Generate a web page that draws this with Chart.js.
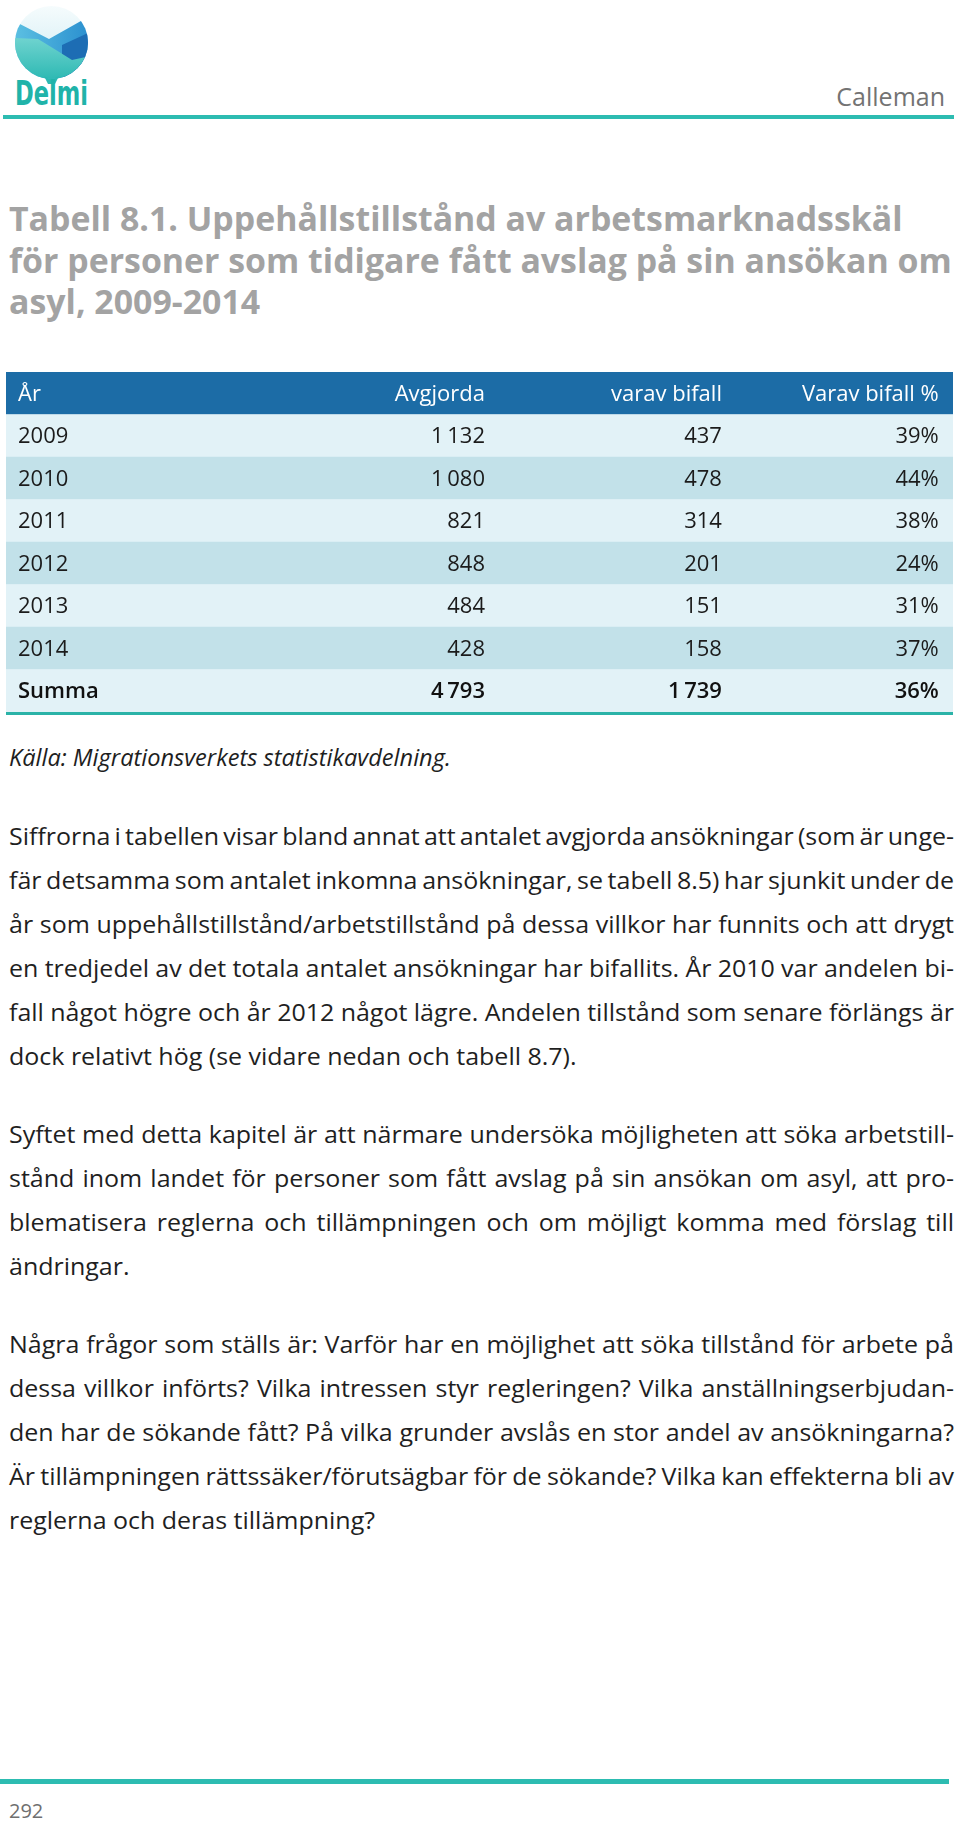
<!DOCTYPE html>
<html><head><meta charset="utf-8">
<script src="https://cdn.jsdelivr.net/npm/chart.js@4"></script>
<style>
html,body{margin:0;padding:0;background:#fff;}
body{width:960px;height:1824px;position:relative;overflow:hidden;font-family:"Open Sans",sans-serif;}
#page{position:absolute;left:0;top:0;}
#tableWrap{position:absolute;left:6px;top:372px;width:947px;height:343px;}
</style></head>
<body>
<svg id="page" width="960" height="1824" xmlns="http://www.w3.org/2000/svg">
  <defs>
    <clipPath id="cc"><circle cx="51.5" cy="42.5" r="36.5"/></clipPath>
    <linearGradient id="sky" x1="0" y1="0" x2="0" y2="1"><stop offset="0" stop-color="#f6fcfd"/><stop offset="1" stop-color="#c9e9f1"/></linearGradient>
    <linearGradient id="sea" x1="0" y1="0" x2="0" y2="1"><stop offset="0" stop-color="#6fd3cf"/><stop offset="1" stop-color="#2bb8b2"/></linearGradient>
    <linearGradient id="mtn" x1="0" y1="0" x2="1" y2="0"><stop offset="0" stop-color="#5cc0e2"/><stop offset="1" stop-color="#2a8fcf"/></linearGradient>
  </defs>
  <!-- logo -->
  <g clip-path="url(#cc)">
    <rect x="14" y="5" width="76" height="76" fill="url(#sky)"/>
    <polygon points="14,21 49,39 90,16 90,81 14,81" fill="url(#mtn)"/>
    <polygon points="62,45 90,32 90,81 62,81" fill="#1d6db4"/>
    <polygon points="14,38 38,39 56,50 72,60 90,56 90,81 14,81" fill="url(#sea)"/>
  </g>
  <path d="M44,76 Q51.5,82 59,76 L55,84 L48,84 Z" fill="#2bb8b2"/>
  <text id="delmi" x="15" y="105" font-family="DejaVu Sans Condensed, DejaVu Sans" font-weight="700" font-size="33" fill="#20b3a9" textLength="73" lengthAdjust="spacingAndGlyphs">Delmi</text>
  <text x="945" y="106" text-anchor="end" font-family="Open Sans" font-size="25" fill="#737373">Calleman</text>
  <rect x="3" y="115" width="951" height="4" fill="#2dbcb1"/>

  <text id="titleT" font-family="Open Sans" font-weight="700" fill="#a3a3a3" font-size="40"></text>
  <text id="kalla" x="9" y="766" font-family="Open Sans" font-style="italic" font-size="20" fill="#1e1e1e">Källa: Migrationsverkets statistikavdelning.</text>
  <g id="bodyOuter" transform="translate(9,0)"><g id="bodyG" font-family="Open Sans" font-size="23" fill="#1f1f1f"></g></g>

  <rect x="0" y="1779" width="949" height="5" fill="#2dbcb1"/>
  <text x="9" y="1818" font-family="Open Sans" font-size="20" fill="#6f6f6f">292</text>
</svg>
<div id="tableWrap"><canvas id="tbl" width="947" height="343"></canvas></div>
<script>
// ---- table data ----
const headers = ['År', 'Avgjorda', 'varav bifall', 'Varav bifall %'];
const years = ['2009', '2010', '2011', '2012', '2013', '2014'];
const avgjorda = [1132, 1080, 821, 848, 484, 428];
const bifall = [437, 478, 314, 201, 151, 158];
const andelPct = [39, 44, 38, 24, 31, 37];
const sumLabel = 'Summa';
const sumAvgjorda = 4793;
const sumBifall = 1739;
const sumPct = 36;

// ---- page text ----
const titleLines = ['Tabell 8.1. Uppehållstillstånd av arbetsmarknadsskäl',
  'för personer som tidigare fått avslag på sin ansökan om',
  'asyl, 2009-2014'];
const paragraphs = [
  ['Siffrorna i tabellen visar bland annat att antalet avgjorda ansökningar (som är unge-',
   'fär detsamma som antalet inkomna ansökningar, se tabell 8.5) har sjunkit under de',
   'år som uppehållstillstånd/arbetstillstånd på dessa villkor har funnits och att drygt',
   'en tredjedel av det totala antalet ansökningar har bifallits. År 2010 var andelen bi-',
   'fall något högre och år 2012 något lägre. Andelen tillstånd som senare förlängs är',
   'dock relativt hög (se vidare nedan och tabell 8.7).'],
  ['Syftet med detta kapitel är att närmare undersöka möjligheten att söka arbetstill-',
   'stånd inom landet för personer som fått avslag på sin ansökan om asyl, att pro-',
   'blematisera reglerna och tillämpningen och om möjligt komma med förslag till',
   'ändringar.'],
  ['Några frågor som ställs är: Varför har en möjlighet att söka tillstånd för arbete på',
   'dessa villkor införts? Vilka intressen styr regleringen? Vilka anställningserbjudan-',
   'den har de sökande fått? På vilka grunder avslås en stor andel av ansökningarna?',
   'Är tillämpningen rättssäker/förutsägbar för de sökande? Vilka kan effekterna bli av',
   'reglerna och deras tillämpning?']
];

const NS = 'http://www.w3.org/2000/svg';
function mk(parent, txt, x, y){ const t=document.createElementNS(NS,'text'); t.setAttribute('x',x); t.setAttribute('y',y); t.textContent=txt; parent.appendChild(t); return t; }

function layoutText(){
  const tt=document.getElementById('titleT');
  const titleBase=[231, 273, 314];
  const spans=titleLines.map((l,i)=>{const s=document.createElementNS(NS,'tspan'); s.setAttribute('x',9); s.setAttribute('y',titleBase[i]); s.textContent=l; tt.appendChild(s); return s;});
  const fs=40*943/spans[1].getComputedTextLength();
  tt.setAttribute('font-size',fs.toFixed(2));

  const k=document.getElementById('kalla');
  k.setAttribute('font-size',(20*442/k.getComputedTextLength()).toFixed(2));

  const outer=document.getElementById('bodyOuter');
  const bg=document.getElementById('bodyG');
  const starts=[845, 1143, 1353];
  const lh=44;
  // horizontal stretch so that the paragraph's closing line matches the page measure
  const probe=mk(bg,paragraphs[0][paragraphs[0].length-1],0,-100);
  const sx=568/probe.getComputedTextLength();
  bg.removeChild(probe);
  outer.setAttribute('transform','translate(9,0) scale('+sx.toFixed(4)+',1)');
  const target=945/sx;
  paragraphs.forEach((p,pi)=>{
    p.forEach((line,li)=>{
      const t=mk(bg,line,0,starts[pi]+li*lh);
      if(li<p.length-1){
        const len=t.getComputedTextLength();
        const n=(line.match(/ /g)||[]).length;
        if(n) t.style.wordSpacing=((target-len)/n).toFixed(3)+'px';
      }
    });
  });
}

function fmt(n){ return String(n).replace(/\B(?=(\d{3})+(?!\d))/g,'\u2009'); }

const rowLabels=['header', ...years, sumLabel];
const rowCells=[headers,
  ...years.map((y,i)=>[y, fmt(avgjorda[i]), fmt(bifall[i]), andelPct[i]+'%']),
  [sumLabel, fmt(sumAvgjorda), fmt(sumBifall), sumPct+'%']];

const colAnchor=[0.0127, 0.5058, 0.756, 0.985];
const colAlign=['left','right','right','right'];

const tablePlugin={
  id:'tableText',
  afterDatasetsDraw(chart){
    const {ctx, scales:{x,y}, chartArea}=chart;
    ctx.save();
    ctx.textBaseline='middle';
    rowCells.forEach((cells,r)=>{
      const cy=y.getPixelForValue(r)+1;
      if(r===0){ ctx.fillStyle='#ffffff'; ctx.font='400 22px "Open Sans"'; }
      else if(r===rowCells.length-1){ ctx.fillStyle='#111111'; ctx.font='600 22px "Open Sans"'; }
      else { ctx.fillStyle='#1b1b1b'; ctx.font='400 22px "Open Sans"'; }
      cells.forEach((c,ci)=>{
        ctx.textAlign=colAlign[ci];
        ctx.fillText(c, x.getPixelForValue(colAnchor[ci]), cy);
      });
    });
    ctx.fillStyle='#2bb3a8';
    ctx.fillRect(chartArea.left, chartArea.bottom, chartArea.right-chartArea.left, 3);
    ctx.restore();
  }
};

function drawTable(){
  new Chart(document.getElementById('tbl'),{
    type:'bar',
    data:{labels:rowLabels, datasets:[{
      data:rowLabels.map(()=>[0,1]),
      backgroundColor:(c)=> c.dataIndex===0 ? '#1c6ca6' : (c.dataIndex%2 ? '#e2f2f7' : '#c2e1e9'),
      borderWidth:0, categoryPercentage:1, barPercentage:1
    }]},
    options:{
      indexAxis:'y', responsive:false, animation:false,
      layout:{padding:{left:0,right:0,top:0,bottom:3}},
      scales:{x:{display:false,min:0,max:1}, y:{display:false}},
      plugins:{legend:{display:false}, tooltip:{enabled:false}}
    },
    plugins:[tablePlugin]
  });
}

(document.fonts ? document.fonts.ready : Promise.resolve()).then(()=>{ layoutText(); drawTable(); });
</script>
</body></html>
